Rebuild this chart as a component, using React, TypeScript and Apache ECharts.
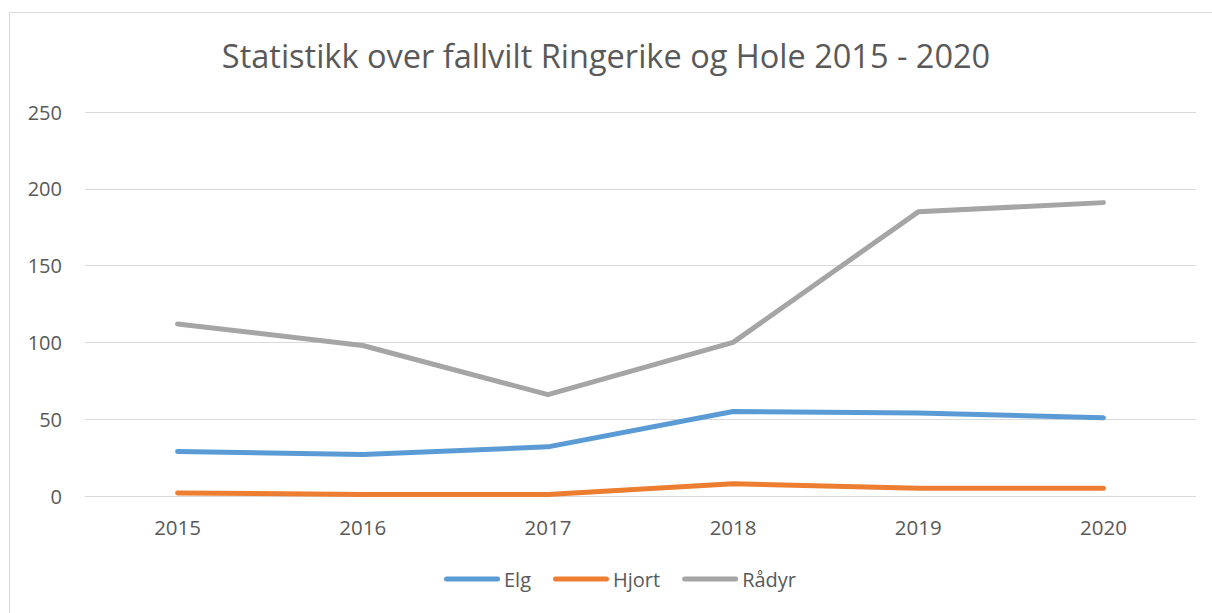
import React, { useEffect, useRef } from "react";
import * as echarts from "echarts";

const title = "Statistikk over fallvilt Ringerike og Hole 2015 - 2020";
const years = ["2015", "2016", "2017", "2018", "2019", "2020"];
const elg = [29, 27, 32, 55, 54, 51];
const hjort = [2, 1, 1, 8, 5, 5];
const radyr = [112, 98, 66, 100, 185, 191];
const seriesNames = ["Elg", "Hjort", "Rådyr"];
const colors = ["#5B9BD5", "#ED7D31", "#A5A5A5"];

const FONT = "'Open Sans', sans-serif";
const capsule = "path://M2.5,0 H53.5 A2.5,2.5 0 0 1 53.5,5 H2.5 A2.5,2.5 0 0 1 2.5,0 Z";

export default function App() {
  const ref = useRef<HTMLDivElement>(null);
  useEffect(() => {
    if (!ref.current) return;
    const chart = echarts.init(ref.current, undefined, { renderer: "svg" });
    const data = [elg, hjort, radyr];
    chart.setOption({
      animation: false,
      backgroundColor: "#ffffff",
      textStyle: { fontFamily: FONT },
      title: {
        text: title,
        left: "center",
        top: 34,
        textStyle: { fontFamily: FONT, fontSize: 32.5, fontWeight: "normal", color: "#595959" },
      },
      graphic: [
        {
          type: "rect",
          shape: { x: 9.5, y: 12.5, width: 1400, height: 800 },
          style: { fill: "none", stroke: "#d9d9d9", lineWidth: 1 },
          silent: true,
          z: -1,
        },
      ],
      legend: {
        bottom: 19,
        left: 439,
        icon: capsule,
        itemWidth: 56,
        itemHeight: 5,
        itemGap: 22,
        textStyle: { fontFamily: FONT, fontSize: 20, color: "#595959", padding: [0, 0, 0, -1] },
        data: seriesNames,
      },
      grid: { left: 85, right: 16, top: 112, bottom: 117, containLabel: false },
      xAxis: {
        type: "category",
        data: years,
        boundaryGap: true,
        axisLine: { show: true, lineStyle: { color: "#d9d9d9", width: 1 } },
        axisTick: { show: false },
        axisLabel: { margin: 20, fontFamily: FONT, fontSize: 20.5, color: "#595959" },
      },
      yAxis: {
        type: "value",
        min: 0,
        max: 250,
        interval: 50,
        axisLine: { show: false },
        axisTick: { show: false },
        splitLine: { lineStyle: { color: "#d9d9d9", width: 1 } },
        axisLabel: { margin: 23, fontFamily: FONT, fontSize: 20, color: "#595959" },
      },
      series: seriesNames.map((name, i) => ({
        name,
        type: "line",
        data: data[i],
        symbol: "none",
        color: colors[i],
        lineStyle: { color: colors[i], width: 5, cap: "round", join: "round" },
      })),
    });
    return () => chart.dispose();
  }, []);
  return (
    <div
      ref={ref}
      style={{ position: "absolute", left: 0, top: 0, width: 1212, height: 613 }}
    />
  );
}
